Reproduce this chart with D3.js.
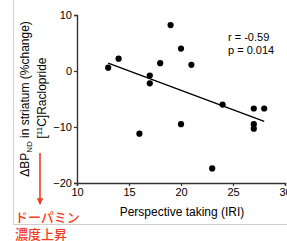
<!DOCTYPE html>
<html>
<head>
<meta charset="utf-8">
<script src="https://cdn.jsdelivr.net/npm/d3@7"></script>
<style>
  body { margin: 0; background: #fff; }
  svg { display: block; font-family: "Liberation Sans", Arial, sans-serif; }
</style>
</head>
<body>
<div id="chart"></div>
<script>
// perspective taking score vs change in binding potential
var iri = [13, 14, 16, 17, 17, 18, 19, 20, 20, 21, 23, 24, 27, 27, 27, 28];
var dbp = [0.6, 2.2, -11.2, -0.8, -2.2, 1.4, 8.2, 4.0, -9.5, 1.1, -17.4, -6.0, -6.7, -9.5, -10.3, -6.7];
var xTicks = [10, 15, 20, 25, 30];
var yTicks = [-20, -10, 0, 10];
var stats = ["r = -0.59", "p = 0.014"];
var note = ["ドーパミン", "濃度上昇"];

var W = 287, H = 241;
var svg = d3.select("#chart").append("svg")
    .attr("width", W)
    .attr("height", H);

// light frame of the slide
svg.append("line").attr("x1", 13.5).attr("x2", 13.5).attr("y1", 0).attr("y2", 225)
    .attr("stroke", "#cfcfcf").attr("stroke-width", 1);
svg.append("line").attr("x1", 13).attr("x2", W).attr("y1", 224.5).attr("y2", 224.5)
    .attr("stroke", "#cfcfcf").attr("stroke-width", 1);

var x = d3.scaleLinear().domain([10, 30]).range([77, 285]);
var y = d3.scaleLinear().domain([-20, 10]).range([183, 15]);

var xAxis = svg.append("g")
    .attr("transform", "translate(0,183)")
    .call(d3.axisBottom(x).tickValues(xTicks).tickSize(3).tickPadding(2));
var yAxis = svg.append("g")
    .attr("transform", "translate(77,0)")
    .call(d3.axisLeft(y).tickValues(yTicks).tickSize(3).tickPadding(2));

[xAxis, yAxis].forEach(function(g){
    g.select(".domain").attr("stroke", "#333").attr("stroke-width", 1.4);
    g.selectAll(".tick line").attr("stroke", "#333").attr("stroke-width", 1.2);
    g.selectAll("text").attr("font-size", 11).attr("fill", "#000")
        .attr("font-family", "Liberation Sans, Arial, sans-serif");
});

// least squares fit through the points
var n = iri.length;
var mx = d3.mean(iri), my = d3.mean(dbp);
var sxy = 0, sxx = 0;
for (var i = 0; i < n; i++) {
    sxy += (iri[i] - mx) * (dbp[i] - my);
    sxx += (iri[i] - mx) * (iri[i] - mx);
}
var slope = sxy / sxx, icpt = my - slope * mx;
var fitX = d3.extent(iri);

svg.append("line")
    .attr("x1", x(fitX[0])).attr("y1", y(icpt + slope * fitX[0]))
    .attr("x2", x(fitX[1])).attr("y2", y(icpt + slope * fitX[1]))
    .attr("stroke", "#000").attr("stroke-width", 1.4);

svg.selectAll("circle.pt")
    .data(iri)
    .enter().append("circle")
    .attr("class", "pt")
    .attr("cx", function(d) { return x(d); })
    .attr("cy", function(d, i) { return y(dbp[i]); })
    .attr("r", 3.1)
    .attr("fill", "#000");

svg.selectAll("text.stat")
    .data(stats)
    .enter().append("text")
    .attr("class", "stat")
    .attr("x", 228)
    .attr("y", function(d, i) { return 41 + i * 13; })
    .attr("font-size", 11)
    .text(function(d) { return d; });

// axis titles
svg.append("text")
    .attr("x", x(20) + 1).attr("y", 216)
    .attr("text-anchor", "middle")
    .attr("font-size", 12)
    .text("Perspective taking (IRI)");

var yl1 = svg.append("text")
    .attr("transform", "translate(29,99) rotate(-90)")
    .attr("text-anchor", "middle")
    .attr("font-size", 12);
yl1.append("tspan").text("ΔBP");
yl1.append("tspan").attr("font-size", 8).attr("dy", 3).text("ND");
yl1.append("tspan").attr("dy", -3).text(" in striatum (%change)");

var yl2 = svg.append("text")
    .attr("transform", "translate(46,98) rotate(-90)")
    .attr("text-anchor", "middle")
    .attr("font-size", 12);
yl2.append("tspan").text("[");
yl2.append("tspan").attr("font-size", 8).attr("dy", -4).text("11");
yl2.append("tspan").attr("dy", 4).text("C]Raclopride");

// red arrow + japanese note
var red = "#f23c1e";
svg.append("defs").append("marker")
    .attr("id", "ah").attr("viewBox", "0 0 10 10")
    .attr("refX", 9).attr("refY", 5)
    .attr("markerWidth", 4).attr("markerHeight", 4)
    .attr("orient", "auto")
    .append("path").attr("d", "M0,0L10,5L0,10z").attr("fill", red);
svg.append("line")
    .attr("x1", 40).attr("x2", 40).attr("y1", 153).attr("y2", 204)
    .attr("stroke", red).attr("stroke-width", 1.6)
    .attr("marker-end", "url(#ah)");

svg.selectAll("text.note")
    .data(note)
    .enter().append("text")
    .attr("class", "note")
    .attr("x", 15)
    .attr("y", function(d, i) { return 222 + i * 17; })
    .attr("font-family", "Noto Sans CJK JP")
    .attr("font-weight", 500)
    .attr("font-size", 13)
    .attr("fill", red)
    .text(function(d) { return d; });
</script>
</body>
</html>
